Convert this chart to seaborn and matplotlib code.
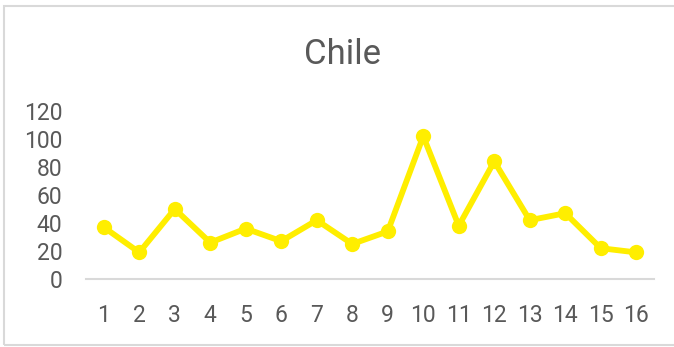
import matplotlib
matplotlib.use("Agg")
import matplotlib.pyplot as plt
from matplotlib.patches import Rectangle
import seaborn as sns
import pandas as pd

# Series for Chile, one value per period
periods = [str(i) for i in range(1, 17)]
values = [37, 19, 50, 26, 36, 27, 42, 25, 34, 102, 38, 84, 42, 47, 22, 19]
y_ticks = [0, 20, 40, 60, 80, 100, 120]

df = pd.DataFrame({"period": periods, "value": values})

sns.set_theme(style="white")
plt.rcParams["font.family"] = ["Roboto", "DejaVu Sans"]

text_color = "#595959"
line_color = "#FFEE00"
grid_color = "#D9D9D9"

fig = plt.figure(figsize=(6.74, 3.47), dpi=100)
ax = fig.add_axes([86 / 674, 1 - 279 / 347, (654 - 86) / 674, (279 - 111) / 347])

sns.lineplot(data=df, x="period", y="value", ax=ax, color=line_color,
             linewidth=4.2, marker="o", markersize=11, markeredgewidth=0,
             sort=False)

ax.set_xlim(-0.5, len(periods) - 0.5)
ax.set_ylim(0, 120)
ax.set_yticks(y_ticks)
ax.set_yticklabels([str(t) for t in y_ticks])
ax.set_xlabel("")
ax.set_ylabel("")

for side in ["top", "right", "left"]:
    ax.spines[side].set_visible(False)
ax.spines["bottom"].set_color(grid_color)
ax.spines["bottom"].set_linewidth(1.5)
ax.spines["bottom"].set_zorder(0)

ax.tick_params(axis="both", length=0, labelsize=16.5, labelcolor=text_color)
ax.tick_params(axis="x", pad=18)
ax.tick_params(axis="y", pad=17)

fig.text(343 / 674, 1 - 55 / 347, "Chile", ha="center", va="center",
         fontsize=25, color=text_color)

# Light frame around the chart area
fig.patches.append(Rectangle((4 / 674, 2 / 347), 700 / 674, 1 - 8 / 347,
                             transform=fig.transFigure, fill=False,
                             edgecolor=grid_color, linewidth=1.5))

fig.savefig("out.png", dpi=100)
